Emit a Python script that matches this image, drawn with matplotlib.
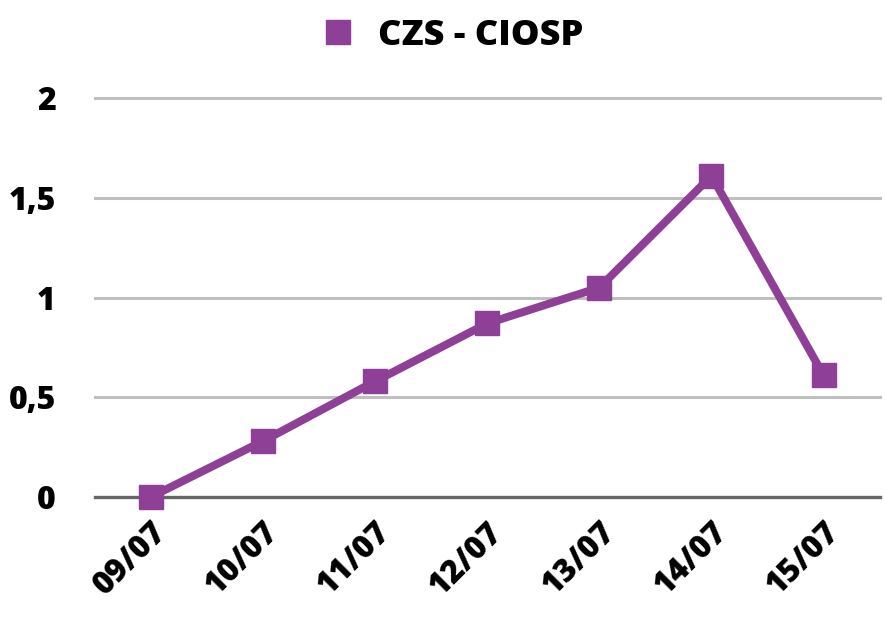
import matplotlib
matplotlib.use('Agg')
import matplotlib.pyplot as plt
from matplotlib.lines import Line2D

# data
dates = ['09/07', '10/07', '11/07', '12/07', '13/07', '14/07', '15/07']
values = [0, 0.28, 0.58, 0.87, 1.05, 1.61, 0.61]
yticks = [0, 0.5, 1, 1.5, 2]
ytick_labels = ['0', '0,5', '1', '1,5', '2']
series_name = 'CZS - CIOSP'

color = '#8E3F96'
plt.rcParams['font.family'] = ['Open Sans', 'DejaVu Sans']
plt.rcParams['font.weight'] = 'bold'

fig = plt.figure(figsize=(8.85, 6.17), dpi=100)
ax = fig.add_axes([0.107, 0.1945, 0.887, 0.6465])

x = list(range(len(dates)))
ax.plot(x, values, color=color, linewidth=5.8, marker='s', markersize=17,
        zorder=3, clip_on=False)

ax.set_xlim(-0.5, len(dates) - 0.5)
ax.set_ylim(0, 2)
ax.set_yticks(yticks)
ax.set_yticklabels(ytick_labels, fontsize=23, fontweight='heavy')
ax.set_xticks(x)
ax.set_xticklabels(dates, fontsize=23, fontweight='heavy', rotation=45,
                   ha='right', va='top', rotation_mode='anchor')
ax.tick_params(axis='both', length=0)
ax.tick_params(axis='y', pad=28)
ax.tick_params(axis='x', pad=14)

for s in ax.spines.values():
    s.set_visible(False)
for yv in yticks:
    if yv == 0:
        ax.axhline(yv, color='#666666', linewidth=2.4, zorder=2, clip_on=False)
    else:
        ax.axhline(yv, color='#BFBFBF', linewidth=2.2, zorder=1, clip_on=False)

handle = Line2D([], [], color=color, marker='s', linestyle='none', markersize=17)
fig.legend([handle], [series_name], loc='upper center', bbox_to_anchor=(0.5, 1.0),
           frameon=False, prop={'size': 26, 'weight': 'heavy'},
           handletextpad=0.1, borderaxespad=0.1)

fig.savefig('out.png', dpi=100)
